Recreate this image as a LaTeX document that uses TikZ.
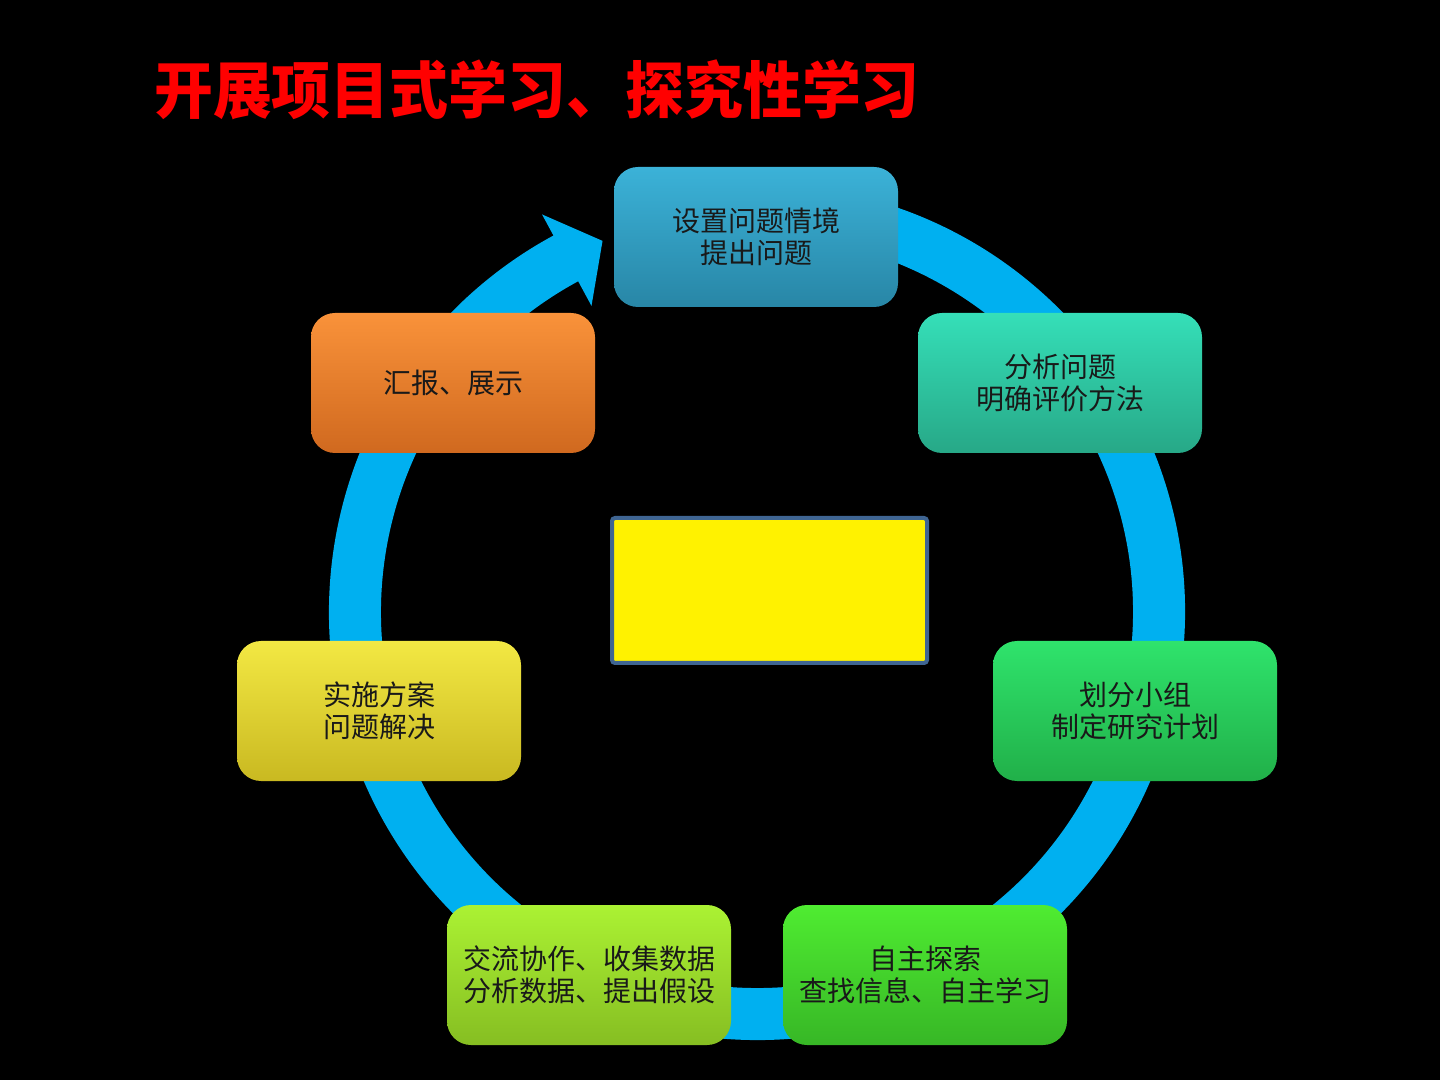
\documentclass[tikz,border=0pt]{standalone}
\usepackage{fontspec}
\setmainfont{Noto Sans CJK SC}
\usepackage{tikz}
\usetikzlibrary{positioning, calc}
\definecolor{ringblue}{HTML}{00B0F0}
\definecolor{framesteel}{HTML}{3F6592}
\definecolor{titlered}{HTML}{FF0000}
\definecolor{HTML3BB2D8}{HTML}{3BB2D8}
\definecolor{HTML2886A6}{HTML}{2886A6}
\definecolor{HTML35DFB8}{HTML}{35DFB8}
\definecolor{HTML27A887}{HTML}{27A887}
\definecolor{HTML2FE36C}{HTML}{2FE36C}
\definecolor{HTML21B049}{HTML}{21B049}
\definecolor{HTML4FEC31}{HTML}{4FEC31}
\definecolor{HTML37B726}{HTML}{37B726}
\definecolor{HTMLABF233}{HTML}{ABF233}
\definecolor{HTML86BE22}{HTML}{86BE22}
\definecolor{HTMLF3E843}{HTML}{F3E843}
\definecolor{HTMLC9B921}{HTML}{C9B921}
\definecolor{HTMLF9923A}{HTML}{F9923A}
\definecolor{HTMLD0691F}{HTML}{D0691F}
\tikzset{
    stage/.style={rectangle, rounded corners=24pt, minimum width=284pt, minimum height=140pt, text centered, align=center, font=\fontsize{28}{32}\selectfont, text=black!90},
    stageblue/.style={stage, top color=HTML3BB2D8, bottom color=HTML2886A6},
    stageteal/.style={stage, top color=HTML35DFB8, bottom color=HTML27A887},
    stagegreen/.style={stage, top color=HTML2FE36C, bottom color=HTML21B049},
    stagelime/.style={stage, top color=HTML4FEC31, bottom color=HTML37B726},
    stagechart/.style={stage, top color=HTMLABF233, bottom color=HTML86BE22},
    stageyellow/.style={stage, top color=HTMLF3E843, bottom color=HTMLC9B921},
    stageorange/.style={stage, top color=HTMLF9923A, bottom color=HTMLD0691F}
}

\begin{document}
\begin{tikzpicture}[x=1pt, y=1pt]
    \fill[black] (0,0) rectangle (1440,1080);
    \useasboundingbox (0,0) rectangle (1440,1080);

    \node (title) [font=\fontsize{62}{72}\selectfont\bfseries, text=titlered, xscale=0.95] at (537,990) {开展项目式学习、探究性学习};

    % ring with arrow head
    \begin{scope}[shift={(757,468)}]
        \fill[ringblue] (80:428) arc[start angle=80, end angle=-241.6, radius=428]
            -- (-241.6:452) -- (-247.4:402) -- (-241.6:348) -- (-241.6:376)
            arc[start angle=-241.6, end angle=80, radius=376] -- cycle;
    \end{scope}

    \node (goal) [rectangle, rounded corners=3pt, draw=framesteel, line width=4pt, fill=yellow, minimum width=315pt, minimum height=145pt] at (769.5,489.5) {};

    \node (pose) [stageblue] at (756,843) {设置问题情境\\提出问题};
    \node (analyse) [stageteal] at (1060,697) {分析问题\\明确评价方法};
    \node (plan) [stagegreen] at (1135,369) {划分小组\\制定研究计划};
    \node (explore) [stagelime] at (925,105) {自主探索\\查找信息、自主学习};
    \node (share) [stagechart] at (589,105) {交流协作、收集数据\\分析数据、提出假设};
    \node (carry) [stageyellow] at (379,369) {实施方案\\问题解决};
    \node (report) [stageorange] at (453,697) {汇报、展示};
\end{tikzpicture}
\end{document}
